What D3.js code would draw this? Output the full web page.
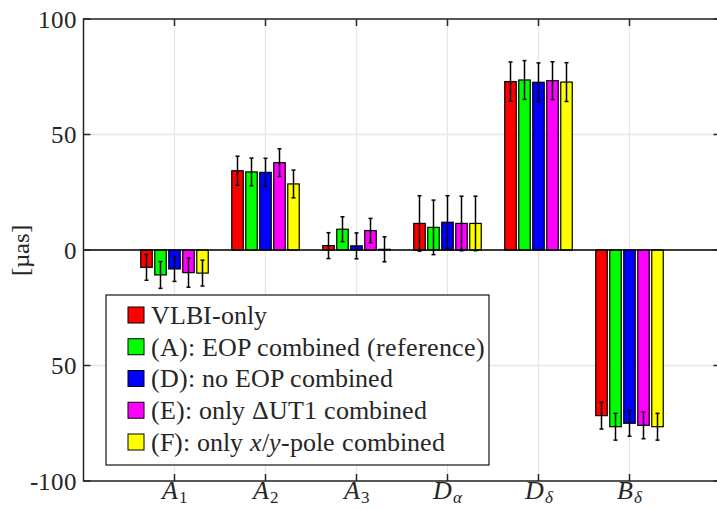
<!DOCTYPE html>
<html>
<head>
<meta charset="utf-8">
<script src="https://cdn.jsdelivr.net/npm/d3@7"></script>
<style>
  @font-face { font-family: "PlotSerif"; src: local("Liberation Serif"), local("LiberationSerif"), local("Liberation Serif Regular"); font-style: normal; }
  @font-face { font-family: "PlotSerif"; src: local("Liberation Serif Italic"), local("LiberationSerif-Italic"); font-style: italic; }
</style>
</head>
<body style="margin:0">
<svg id="chart"></svg>
<script>
// Categories along the x axis (italic letter + subscript)
const categories = ["A1", "A2", "A3", "Da", "Dd", "Bd"];
const cat_main = ["A", "A", "A", "D", "D", "B"];
const cat_sub = ["1", "2", "3", "\u03b1", "\u03b4", "\u03b4"];

// Series names and colours
const series_names = ["VLBI-only", "(A): EOP combined (reference)", "(D): no EOP combined",
    "(E): only \u0394UT1 combined", "(F): only x/y-pole combined"];
const series_colors = ["#ff0000", "#00ff00", "#0000ff", "#ff00ff", "#ffff00"];

// Values per series (one per category) in µas
const vlbi_only = [-7.5, 34.3, 1.9, 11.5, 72.9, -71.7];
const eop_comb = [-10.8, 33.8, 9.0, 9.8, 73.6, -76.5];
const no_eop = [-8.2, 33.6, 1.8, 12.0, 72.6, -75.0];
const only_ut1 = [-9.8, 37.8, 8.4, 11.5, 73.3, -75.9];
const only_pole = [-10.0, 28.6, 0.3, 11.5, 72.7, -76.5];

// Error bars (half-length) per series
const vlbi_only_err = [5.6, 6.3, 5.6, 12.0, 8.5, 5.8];
const eop_comb_err = [5.8, 6.0, 5.4, 11.8, 8.4, 5.8];
const no_eop_err = [5.4, 6.1, 5.6, 11.5, 8.4, 5.6];
const only_ut1_err = [6.3, 6.0, 5.3, 11.8, 8.2, 5.8];
const only_pole_err = [5.6, 6.0, 5.4, 11.8, 8.4, 5.8];

const series_values = [vlbi_only, eop_comb, no_eop, only_ut1, only_pole];
const series_errors = [vlbi_only_err, eop_comb_err, no_eop_err, only_ut1_err, only_pole_err];

// Y ticks and their labels (as printed in the figure)
const y_ticks = [-100, -50, 0, 50, 100];
const y_tick_labels = ["-100", "50", "0", "50", "100"];

const width = 717, height = 509;
const axis_color = "#262626";
const grid_color = "#e6e6e6";
const serif_font = "PlotSerif, 'Liberation Serif', 'Times New Roman', serif";

const svg = d3.select("#chart").attr("width", width).attr("height", height);

// Scales
const x = d3.scaleLinear().domain([0, 7]).range([83.5, 720.5]);
const y = d3.scaleLinear().domain([-100, 100]).range([481, 19]);
const plot_left = x(0), plot_right = x(7), plot_top = y(100), plot_bottom = y(-100);

// Within-group band scale (pixels relative to group centre)
const group_half = (x(1) - x(0)) * (5 / 6.5) / 2;
const inner = d3.scaleBand()
    .domain(d3.range(series_values.length))
    .range([-group_half, group_half])
    .paddingInner(0.18)
    .paddingOuter(0.09);

// Grid lines
const grid = svg.append("g").attr("stroke", grid_color).attr("stroke-width", 1.3);
grid.selectAll(".vgrid")
    .data(d3.range(1, 7))
    .enter().append("line")
    .attr("x1", d => x(d)).attr("x2", d => x(d))
    .attr("y1", plot_top).attr("y2", plot_bottom);
grid.selectAll(".hgrid")
    .data(y_ticks)
    .enter().append("line")
    .attr("x1", plot_left).attr("x2", plot_right)
    .attr("y1", d => y(d)).attr("y2", d => y(d));

// Bars
const bar_groups = svg.append("g");
series_values.forEach(function (vals, s) {
    const g = bar_groups.append("g");
    g.selectAll("rect")
        .data(vals)
        .enter().append("rect")
        .attr("x", (d, i) => x(i + 1) + inner(s))
        .attr("width", inner.bandwidth())
        .attr("y", d => y(Math.max(d, 0)))
        .attr("height", d => Math.abs(y(d) - y(0)))
        .attr("fill", series_colors[s])
        .attr("stroke", "#000")
        .attr("stroke-width", 1.2);
});

// Zero baseline
svg.append("line")
    .attr("x1", plot_left).attr("x2", plot_right)
    .attr("y1", y(0)).attr("y2", y(0))
    .attr("stroke", "#000").attr("stroke-width", 1.3);

// Error bars
const err_g = svg.append("g").attr("stroke", "#000").attr("stroke-width", 1.5);
series_values.forEach(function (vals, s) {
    vals.forEach(function (v, i) {
        const cx = x(i + 1) + inner(s) + inner.bandwidth() / 2;
        const e = series_errors[s][i];
        err_g.append("line").attr("x1", cx).attr("x2", cx).attr("y1", y(v + e)).attr("y2", y(v - e));
        err_g.append("line").attr("x1", cx - 2).attr("x2", cx + 2).attr("y1", y(v + e)).attr("y2", y(v + e));
        err_g.append("line").attr("x1", cx - 2).attr("x2", cx + 2).attr("y1", y(v - e)).attr("y2", y(v - e));
    });
});

// Axes box
const box = svg.append("g").attr("stroke", axis_color).attr("stroke-width", 1.5).attr("fill", "none");
box.append("rect")
    .attr("x", plot_left).attr("y", plot_top)
    .attr("width", plot_right - plot_left).attr("height", plot_bottom - plot_top);

// Ticks (inward, on all four sides)
const tick_len = 7;
d3.range(1, 7).forEach(function (t) {
    box.append("line").attr("x1", x(t)).attr("x2", x(t)).attr("y1", plot_bottom).attr("y2", plot_bottom - tick_len);
    box.append("line").attr("x1", x(t)).attr("x2", x(t)).attr("y1", plot_top).attr("y2", plot_top + tick_len);
});
y_ticks.forEach(function (t) {
    box.append("line").attr("x1", plot_left).attr("x2", plot_left + tick_len).attr("y1", y(t)).attr("y2", y(t));
    box.append("line").attr("x1", plot_right).attr("x2", plot_right - tick_len).attr("y1", y(t)).attr("y2", y(t));
});

// Y tick labels
svg.append("g").selectAll("text")
    .data(y_ticks)
    .enter().append("text")
    .attr("x", plot_left - 7)
    .attr("y", d => y(d))
    .attr("dy", "0.35em")
    .attr("text-anchor", "end")
    .attr("fill", axis_color)
    .attr("font-family", serif_font)
    .style("font-family", serif_font)
    .style("font-size", "25px")
    .text((d, i) => y_tick_labels[i]);

// X tick labels
const xl = svg.append("g").selectAll("text")
    .data(categories)
    .enter().append("text")
    .attr("x", (d, i) => x(i + 1))
    .attr("y", 499)
    .attr("text-anchor", "middle")
    .attr("fill", axis_color)
    .attr("font-family", serif_font)
    .style("font-family", serif_font);
xl.append("tspan")
    .style("font-style", "italic")
    .style("font-size", "26px")
    .text((d, i) => cat_main[i]);
xl.append("tspan")
    .attr("dy", 4)
    .attr("dx", 1)
    .style("font-size", "17px")
    .style("font-style", (d, i) => i >= 3 ? "italic" : "normal")
    .text((d, i) => cat_sub[i]);

// Y axis label
svg.append("text")
    .attr("transform", "translate(20," + y(0) + ") rotate(-90)")
    .attr("text-anchor", "middle")
    .attr("dy", "0.35em")
    .attr("fill", axis_color)
    .attr("font-family", serif_font)
    .style("font-family", serif_font)
    .style("font-size", "25px")
    .text("[\u00b5as]");

// Legend
const legend = svg.append("g");
legend.append("rect")
    .attr("x", 106).attr("y", 295)
    .attr("width", 383).attr("height", 170)
    .attr("fill", "#fff")
    .attr("stroke", axis_color)
    .attr("stroke-width", 1.3);

const row_y = d3.scalePoint().domain(d3.range(series_names.length)).range([315, 442]);
series_names.forEach(function (name, s) {
    const cy = row_y(s);
    legend.append("rect")
        .attr("x", 128).attr("y", cy - 8)
        .attr("width", 16).attr("height", 16)
        .attr("fill", series_colors[s])
        .attr("stroke", "#000").attr("stroke-width", 1);
    const t = legend.append("text")
        .attr("x", 151).attr("y", cy)
        .attr("dy", "0.35em")
        .attr("fill", axis_color)
        .attr("font-family", serif_font)
        .style("font-family", serif_font)
        .style("font-size", "25.5px");
    if (name.indexOf("x/y") >= 0) {
        const parts = name.split("x/y");
        t.append("tspan").text(parts[0]);
        t.append("tspan").style("font-style", "italic").text("x");
        t.append("tspan").text("/");
        t.append("tspan").style("font-style", "italic").text("y");
        t.append("tspan").text(parts[1]);
    } else {
        t.text(name);
    }
});
</script>
</body>
</html>
